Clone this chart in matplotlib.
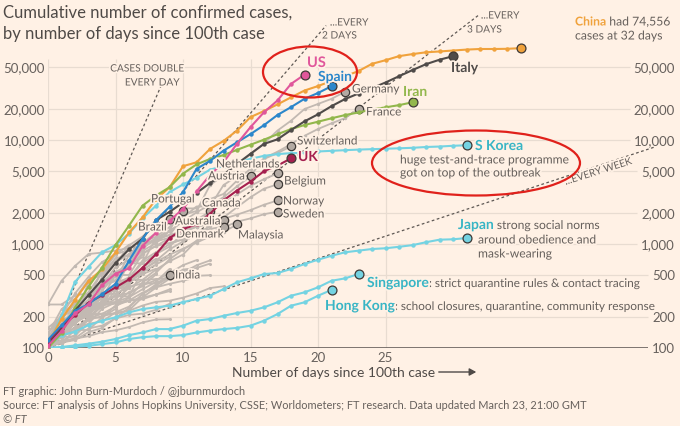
"""FT-style log chart: cumulative confirmed cases by days since the 100th case."""

import matplotlib

matplotlib.use("Agg")
import matplotlib.patheffects as pe
import matplotlib.pyplot as plt
import numpy as np
from matplotlib.patches import Ellipse, FancyArrowPatch
from matplotlib.transforms import blended_transform_factory

plt.rcParams["font.family"] = ["Lato", "DejaVu Sans"]

# ------------------------------------------------------------------ data
# cumulative confirmed cases, one value per day since each country's 100th case

CHINA = [110, 190, 290, 440, 570, 830, 1290, 1800, 2700, 3500, 5600, 6100,
         8200, 9800, 12300, 16600, 19000, 22000, 25700, 29900, 33000, 37000,
         41000, 46000, 54000, 58500, 64000, 67000, 69700, 71000, 72500, 74000,
         75000, 75000, 75300, 76400]
ITALY = [110, 155, 229, 322, 453, 655, 888, 1128, 1694, 2036, 2502, 3089,
         3858, 4636, 5883, 7375, 9172, 10149, 12462, 15113, 17660, 21157,
         24747, 27980, 31506, 35713, 41035, 47021, 53578, 59138, 63927]
SPAIN = [120, 165, 228, 265, 330, 413, 690, 1120, 1695, 2277, 3150, 5270,
         6300, 7900, 9500, 11400, 13900, 17400, 20700, 24900, 28300, 32900]
US = [105, 145, 215, 262, 402, 518, 583, 959, 1281, 1663, 2179, 3200, 4600,
      6100, 9200, 13300, 18500, 24000, 34600, 42500]
IRAN = [100, 139, 245, 388, 593, 978, 1501, 2336, 2922, 3513, 4747, 5823,
        6566, 7161, 8042, 9000, 10075, 11364, 12729, 13938, 14991, 16169,
        17361, 18407, 19644, 20610, 21638, 23049]
UK = [115, 163, 206, 273, 321, 382, 456, 590, 798, 1140, 1391, 1543, 1950,
      2626, 3269, 3983, 5018, 5683, 6650]
S_KOREA = [104, 204, 433, 602, 833, 977, 1261, 1766, 2337, 3150, 3736, 4335,
           5186, 5621, 6088, 6593, 7041, 7314, 7478, 7513, 7755, 7869, 7979,
           8086, 8162, 8236, 8320, 8413, 8565, 8652, 8799, 8900]
JAPAN = [105, 132, 144, 166, 183, 197, 220, 237, 246, 255, 276, 296, 318,
         369, 428, 467, 514, 526, 575, 642, 706, 771, 832, 863, 895, 910,
         940, 975, 1040, 1100, 1110, 1140]
SINGAPORE = [100, 102, 106, 110, 115, 122, 133, 141, 152, 152, 164, 183,
             190, 204, 217, 228, 246, 275, 318, 343, 383, 443, 467, 514]
HONG_KONG = [100, 102, 103, 105, 109, 113, 122, 127, 130, 130, 133, 141,
             147, 152, 156, 164, 183, 212, 255, 275, 318, 362]

# grey countries that get a name
GERMANY = [130, 159, 196, 262, 482, 670, 799, 1040, 1176, 1457, 1908, 2078,
           3675, 4585, 5795, 7272, 9257, 12327, 15320, 19848, 22213, 24873,
           29056]
FRANCE = [100, 130, 191, 204, 288, 380, 656, 957, 1136, 1219, 1794, 2293,
          2293, 3681, 4496, 4532, 6683, 7715, 9124, 10970, 12758, 14463,
          16243, 19856]
SWITZERLAND = [114, 214, 268, 337, 374, 491, 652, 652, 1139, 1359, 2200,
               2200, 2700, 3028, 4075, 5294, 6575, 7474, 8700]
NETHERLANDS = [128, 188, 265, 321, 382, 503, 503, 804, 959, 1135, 1413, 1705,
               2051, 2460, 2994, 3631, 4204, 4764]
AUSTRIA = [104, 131, 182, 246, 302, 504, 655, 860, 1018, 1332, 1646, 2013,
           2388, 2814, 3582, 4474]
BELGIUM = [109, 169, 200, 239, 267, 314, 314, 559, 689, 886, 1058, 1243,
           1486, 1795, 2257, 2815, 3401, 3743]
NORWAY = [108, 147, 176, 205, 400, 598, 702, 996, 1090, 1221, 1333, 1463,
          1550, 1746, 1914, 2118, 2385, 2621]
SWEDEN = [101, 161, 203, 248, 355, 500, 599, 814, 961, 1022, 1103, 1190,
          1279, 1439, 1639, 1763, 1934, 2046]
PORTUGAL = [112, 169, 245, 331, 448, 448, 785, 1020, 1280, 1600, 2060]
CANADA = [108, 117, 193, 198, 252, 415, 478, 657, 800, 943, 1277, 1469, 2088]
BRAZIL = [121, 200, 234, 346, 529, 640, 970, 1178, 1546, 1740]
AUSTRALIA = [107, 128, 128, 200, 250, 297, 377, 452, 568, 681, 791, 1071,
             1549, 1720]
DENMARK = [262, 442, 615, 801, 827, 864, 914, 977, 1057, 1151, 1255, 1326,
           1395, 1470]
MALAYSIA = [117, 129, 149, 149, 197, 238, 428, 566, 673, 790, 900, 1030,
            1183, 1306, 1540]
INDIA = [102, 113, 119, 142, 156, 194, 244, 330, 396, 499]

# the unnamed grey bundle
CZECHIA = [116, 141, 189, 253, 298, 396, 464, 694, 833, 995, 1120, 1236]
ISRAEL = [109, 131, 143, 193, 213, 250, 304, 427, 529, 712, 883, 1071, 1238]
IRELAND = [129, 169, 223, 292, 557, 683, 785, 906, 1125, 1329]
LUXEMBOURG = [140, 203, 335, 484, 670, 798, 875]
POLAND = [103, 119, 177, 238, 251, 355, 425, 536, 634, 749]
FINLAND = [109, 155, 225, 244, 277, 321, 336, 400, 450, 523, 626, 700]
GREECE = [101, 117, 190, 228, 331, 331, 387, 418, 418, 495, 530, 624, 695]
ICELAND = [103, 134, 156, 171, 180, 220, 250, 330, 409, 473, 568, 588, 648]
QATAR = [262, 262, 320, 337, 401, 439, 452, 452, 460, 470, 481, 494, 501]
BAHRAIN = [109, 189, 195, 210, 214, 214, 228, 256, 278, 285, 305, 334, 377,
           392]
THAILAND = [114, 147, 177, 212, 272, 322, 411, 599, 721]
INDONESIA = [117, 134, 172, 227, 311, 369, 450, 514, 579]
SAUDI_ARABIA = [103, 118, 133, 171, 238, 274, 344, 392, 511]
CHILE = [156, 201, 238, 238, 434, 537, 632, 746]
ECUADOR = [111, 168, 199, 426, 532, 789, 981]
PAKISTAN = [136, 236, 299, 454, 501, 730, 776, 875]
PHILIPPINES = [111, 140, 142, 187, 202, 217, 230, 307, 380, 462]
SLOVENIA = [141, 181, 219, 253, 275, 275, 286, 341, 383, 414, 442, 480]
ROMANIA = [123, 131, 158, 184, 260, 277, 308, 367, 433, 576]
ESTONIA = [115, 171, 205, 225, 258, 267, 283, 306, 326, 352]
EGYPT = [109, 110, 150, 196, 196, 256, 285, 294, 327, 366]
IRAQ = [110, 116, 124, 154, 164, 192, 208, 214, 233, 266]
RUSSIA = [114, 147, 199, 253, 306, 367, 438]
SOUTH_AFRICA = [116, 150, 202, 240, 274, 402]
KUWAIT = [104, 112, 123, 130, 142, 148, 159, 176, 188, 189]
PERU = [117, 145, 234, 234, 318, 363, 395]
CROATIA = [105, 128, 206, 254, 315]
MEXICO = [118, 164, 203, 251, 316]
COLOMBIA = [102, 128, 196, 231, 277]
SERBIA = [103, 135, 171, 222, 249]

TICK_DAYS = [0, 5, 10, 15, 20, 25]
TICK_CASES = [100, 200, 500, 1000, 2000, 5000, 10000, 20000, 50000]
TICK_LABELS = ["100", "200", "500", "1,000", "2,000", "5,000", "10,000",
               "20,000", "50,000"]
DOUBLING_PERIODS = [1, 2, 3, 7]          # days per doubling
DOUBLING_END_DAY = [8.4, 20.6, 31.9, 45.0]

# ----------------------------------------------------------------- style

W, H = 680, 427
X0, Y0 = 48, 349            # pixel position of (day 0, 100 cases)
PX_PER_DAY = 13.5
PX_PER_DECADE = 104

BG = "#FFF1E5"
GRID = "#E8DCD1"
TEXT = "#66605C"
DARK = "#4F4A47"
GREY_LINE = "#C2B9B2"
GREY_DOT = "#B3AAA3"
CYAN = "#74D3E2"
CYAN_TEXT = "#38B5C5"
ORANGE = "#F0A23C"
ITALY_GREY = "#4F4B49"
BLUE = "#2C87CB"
PINK = "#E0579B"
GREEN = "#92B74C"
CRIMSON = "#A5204F"
RED = "#E0211B"
EDGE = "#3E3936"

HALO = [pe.withStroke(linewidth=2.5, foreground=BG)]
NOTE = 8.7          # size of the explanatory notes


def fx(x_px):
    return x_px / W


def fy(y_px):
    return 1 - y_px / H


def ftext(fig, x_px, y_px, s, **kw):
    kw.setdefault("color", TEXT)
    kw.setdefault("va", "center")
    return fig.text(fx(x_px), fy(y_px), s, **kw)


def label(fig, x_px, y_px, s, **kw):
    """Chart label with a background-coloured halo so lines break behind it."""
    kw.setdefault("fontsize", 8.5)
    return ftext(fig, x_px, y_px, s, path_effects=HALO, zorder=8, **kw)


def follow(ax, prev, s, **kw):
    """Write s straight after the text artist prev, on the same line."""
    kw.setdefault("color", TEXT)
    return ax.annotate(s, xy=(1, 0), xycoords=prev, va="bottom", ha="left",
                       annotation_clip=False, path_effects=HALO, **kw)


def plot_series(ax, values, color, z, lw=1.5, dot=3.2, end=6.4, end_fc=None):
    days = np.arange(len(values))
    ax.plot(days, values, color=color, lw=lw, marker="o", ms=dot, mew=0,
            zorder=z, solid_capstyle="round", solid_joinstyle="round")
    if end:
        ax.plot(days[-1], values[-1], "o", ms=end, mfc=end_fc or color,
                mec=EDGE, mew=0.9, zorder=z + 0.5)


def main():
    fig = plt.figure(figsize=(W / 100, H / 100), dpi=100, facecolor=BG)
    ax = fig.add_axes([fx(X0), fy(Y0), (W - X0) / W, Y0 / H])
    ax.set_facecolor("none")
    ax.set_yscale("log")
    ax.set_xlim(0, (W - X0) / PX_PER_DAY)
    ax.set_ylim(100, 100 * 10 ** (Y0 / PX_PER_DECADE))
    ax.set_axis_off()

    # vertical grid
    ax.vlines(TICK_DAYS, 100, 60000, color=GRID, lw=0.9, zorder=0)
    for d in TICK_DAYS:
        ax.annotate(str(d), (d, 100), xytext=(0, -2.5),
                    textcoords="offset points", ha="center", va="top",
                    fontsize=9.5, color=TEXT)

    # y labels on both sides; horizontal grid stops short of the right labels
    yfig = blended_transform_factory(fig.transFigure, ax.transData)
    right_labels = []
    for val, lab in zip(TICK_CASES, TICK_LABELS):
        ax.text(fx(45), val, lab, transform=yfig, ha="right", va="center",
                fontsize=9.5, color=TEXT)
        right_labels.append(ax.text(fx(675), val, lab, transform=yfig,
                                    ha="right", va="center", fontsize=9.5,
                                    color=TEXT))
    fig.canvas.draw()
    renderer = fig.canvas.get_renderer()
    inv = ax.transData.inverted()
    for val, t in zip(TICK_CASES, right_labels):
        x_end = inv.transform((t.get_window_extent(renderer).x0 - 4, 0))[0]
        if val == 100:
            ax.hlines(val, 0, x_end, color="#5A5350", lw=1.1, zorder=1)
        else:
            ax.hlines(val, 0, x_end, color=GRID, lw=0.9, zorder=0)

    # doubling reference lines
    for period, d_end in zip(DOUBLING_PERIODS, DOUBLING_END_DAY):
        d = np.linspace(0, d_end, 200)
        ax.plot(d, 100 * 2 ** (d / period), color="#5E5854", lw=0.9,
                ls=(0, (2.2, 2.0)), zorder=1.5)

    # grey bundle
    others = [CZECHIA, ISRAEL, IRELAND, LUXEMBOURG, POLAND, FINLAND, GREECE,
              ICELAND, QATAR, BAHRAIN, THAILAND, INDONESIA, SAUDI_ARABIA,
              CHILE, ECUADOR, PAKISTAN, PHILIPPINES, SLOVENIA, ROMANIA,
              ESTONIA, EGYPT, IRAQ, RUSSIA, SOUTH_AFRICA, KUWAIT, PERU,
              CROATIA, MEXICO, COLOMBIA, SERBIA]
    for s in others:
        plot_series(ax, s, GREY_LINE, z=2, lw=1.3, dot=2.2, end=0)
    named_grey = [GERMANY, FRANCE, SWITZERLAND, NETHERLANDS, AUSTRIA, BELGIUM,
                  NORWAY, SWEDEN, PORTUGAL, CANADA, BRAZIL, AUSTRALIA,
                  DENMARK, MALAYSIA, INDIA]
    for s in named_grey:
        plot_series(ax, s, GREY_LINE, z=2.5, lw=1.3, dot=2.5, end=6.0,
                    end_fc=GREY_DOT)

    # highlighted countries
    for s in [S_KOREA, JAPAN, SINGAPORE, HONG_KONG]:
        plot_series(ax, s, CYAN, z=3, end_fc=CYAN)
    plot_series(ax, CHINA, ORANGE, z=4)
    plot_series(ax, IRAN, GREEN, z=4)
    plot_series(ax, ITALY, ITALY_GREY, z=4)
    plot_series(ax, UK, CRIMSON, z=4.5)
    plot_series(ax, SPAIN, BLUE, z=5)
    plot_series(ax, US, PINK, z=5.5)

    # country labels (pixel positions)
    big = dict(fontsize=10, fontweight="bold")
    label(fig, 307, 64, "US", color=PINK, fontsize=10.5, fontweight="bold")
    label(fig, 318, 78, "Spain", color=BLUE, **big)
    label(fig, 451, 69, "Italy", color=ITALY_GREY, **big)
    label(fig, 403, 93, "Iran", color=GREEN, **big)
    label(fig, 298, 158, "UK", color=CRIMSON, **big)
    label(fig, 352, 90, "Germany")
    label(fig, 366, 113, "France")
    label(fig, 297, 142, "Switzerland")
    label(fig, 280, 165, "Netherlands", ha="right")
    label(fig, 208, 177, "Austria")
    label(fig, 284, 182, "Belgium")
    label(fig, 151, 200, "Portugal")
    label(fig, 202, 204, "Canada")
    label(fig, 138, 228, "Brazil")
    label(fig, 175, 222, "Australia")
    label(fig, 176, 235, "Denmark")
    label(fig, 283, 202, "Norway")
    label(fig, 283, 215, "Sweden")
    label(fig, 238, 236, "Malaysia")
    label(fig, 175, 276, "India")

    china = label(fig, 575, 23, "China", color=ORANGE, fontsize=8.8,
                  fontweight="bold")
    follow(ax, china, " had 74,556", fontsize=8.8)
    label(fig, 575, 37, "cases at 32 days", fontsize=8.8)

    label(fig, 475, 147, "S Korea", color=CYAN_TEXT, **big)
    label(fig, 400, 161, "huge test-and-trace programme", fontsize=NOTE)
    label(fig, 400, 174, "got on top of the outbreak", fontsize=NOTE)

    japan = label(fig, 458, 226, "Japan", color=CYAN_TEXT, **big)
    follow(ax, japan, " strong social norms", fontsize=NOTE)
    label(fig, 478, 241, "around obedience and", fontsize=NOTE)
    label(fig, 478, 255, "mask-wearing", fontsize=NOTE)
    sing = label(fig, 367, 284, "Singapore", color=CYAN_TEXT, **big)
    follow(ax, sing, ": strict quarantine rules & contact tracing",
           fontsize=8.5)
    hk = label(fig, 325, 307, "Hong Kong", color=CYAN_TEXT, **big)
    follow(ax, hk, ": school closures, quarantine, community response",
           fontsize=8.5)

    # doubling-line captions
    cap = dict(fontsize=7.3)
    label(fig, 147, 70, "CASES DOUBLE", ha="center", **cap)
    label(fig, 152, 84, "EVERY DAY", ha="center", **cap)
    label(fig, 330, 24, "...EVERY", **cap)
    label(fig, 322, 37, "2 DAYS", **cap)
    label(fig, 481, 17, "...EVERY", **cap)
    label(fig, 467, 31, "3 DAYS", **cap)
    label(fig, 598, 173, "...EVERY WEEK", ha="center", rotation=17.5,
          rotation_mode="anchor", **cap)

    # red rings
    for cx, cy, w, h in [(310, 73, 94, 51), (476, 164, 208, 65)]:
        fig.add_artist(Ellipse((fx(cx), fy(cy)), w / W, h / H,
                               transform=fig.transFigure, fill=False,
                               ec=RED, lw=1.6, zorder=10))

    # titles, axis caption, footer
    ftext(fig, 3, 13, "Cumulative number of confirmed cases,", fontsize=12,
          color=DARK)
    ftext(fig, 3, 34, "by number of days since 100th case", fontsize=12,
          color=DARK)
    ftext(fig, 232, 373, "Number of days since 100th case", fontsize=10,
          color=DARK)
    fig.add_artist(FancyArrowPatch(
        (fx(436), fy(373)), (fx(479), fy(373)), transform=fig.transFigure,
        arrowstyle="-|>,head_length=4,head_width=2.2", color=DARK, lw=1.0))
    foot = dict(fontsize=7.9)
    ftext(fig, 3, 392, "FT graphic: John Burn-Murdoch / @jburnmurdoch", **foot)
    ftext(fig, 3, 406, "Source: FT analysis of Johns Hopkins University, "
          "CSSE; Worldometers; FT research. Data updated March 23, "
          "21:00 GMT", **foot)
    ftext(fig, 3, 420, "\u00a9 FT", style="italic", **foot)

    fig.savefig("out.png", dpi=100, facecolor=BG)


if __name__ == "__main__":
    main()
